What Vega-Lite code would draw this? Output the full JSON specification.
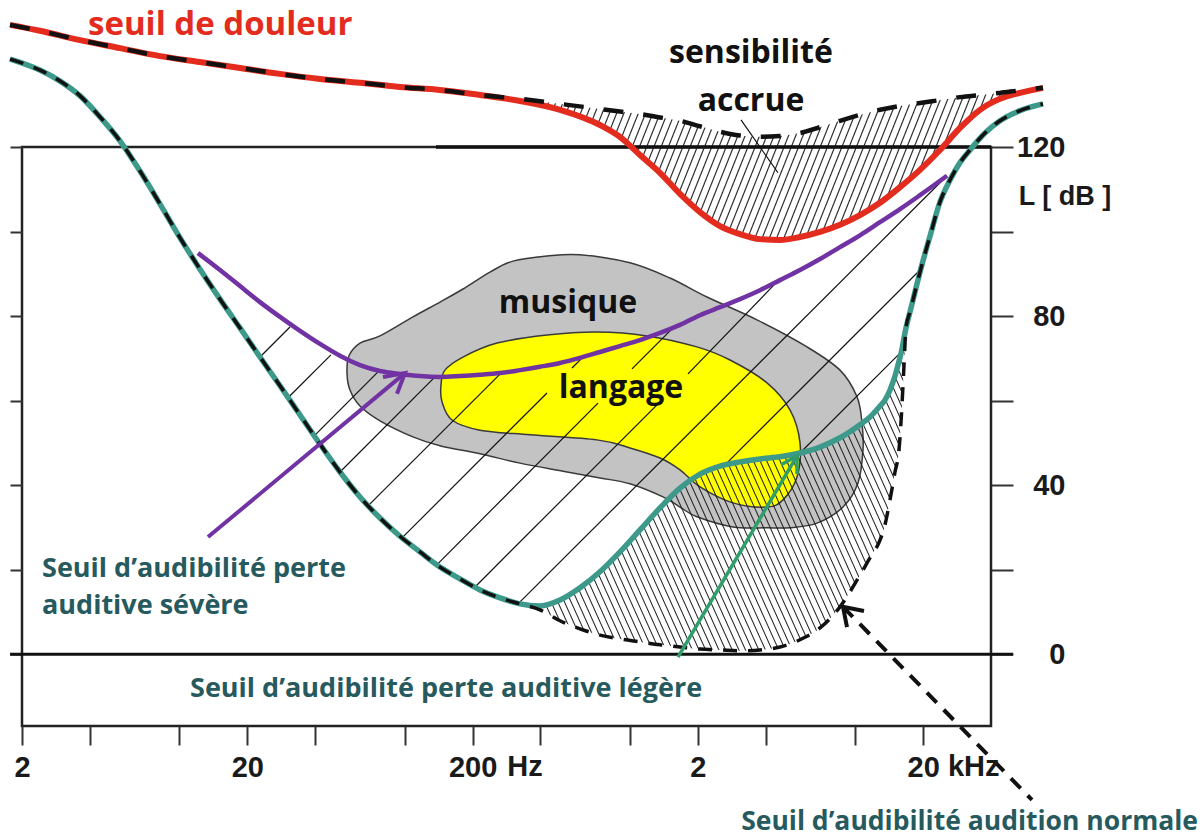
{
"$schema":"https://vega.github.io/schema/vega-lite/v6.json",
"width":969,"height":579,"autosize":"none",
"padding":{"left":22,"top":147,"right":212,"bottom":112},
"background":"white",
"config":{"view":{"stroke":"#222","strokeWidth":2.5},"axis":{"grid":false,"domain":false,"title":null,"tickColor":"#333","tickWidth":2,"labelFont":"Liberation Sans","labelFontWeight":"bold","labelFontSize":29,"labelColor":"#1a1a1a","labelOverlap":false,"labelFlush":false,"labelBound":false}},
"datasets":{
"douleur":[
{"f":1.77,"db":148.9,"db2":148.9},{"f":2.40,"db":147.5,"db2":147.5},{"f":3.62,"db":145.3,"db2":145.3},{"f":5.45,"db":143.4,"db2":143.4},{"f":8.20,"db":141.5,"db2":141.5},{"f":12.3,"db":140.1,"db2":140.1},{"f":18.6,"db":138.7,"db2":138.7},{"f":27.9,"db":137.3,"db2":137.3},{"f":42.0,"db":136.1,"db2":136.1},{"f":63.3,"db":135.2,"db2":135.2},{"f":95.2,"db":134.2,"db2":134.2},{"f":143,"db":133.5,"db2":133.5},{"f":216,"db":132.3,"db2":132.3},{"f":325,"db":130.9,"db2":131.4},{"f":489,"db":128.8,"db2":130.2},{"f":736,"db":125.2,"db2":129.0},{"f":902,"db":122.4,"db2":128.4},{"f":1107,"db":118.1,"db2":127.8},{"f":1358,"db":113.9,"db2":127.0},{"f":1666,"db":108.9,"db2":126.2},{"f":2043,"db":104.6,"db2":124.9},{"f":2507,"db":101.3,"db2":123.6},{"f":3076,"db":99.4,"db2":122.7},{"f":3773,"db":98.2,"db2":122.4},{"f":4629,"db":98.0,"db2":122.6},{"f":5679,"db":98.7,"db2":123.3},{"f":6967,"db":99.9,"db2":124.7},{"f":8547,"db":101.6,"db2":126.2},{"f":10486,"db":103.9,"db2":127.6},{"f":12864,"db":106.8,"db2":128.8},{"f":15782,"db":110.5,"db2":129.7},{"f":19357,"db":114.6,"db2":130.4},{"f":23750,"db":119.3,"db2":131.1},{"f":29138,"db":124.5,"db2":131.8},{"f":35746,"db":128.8,"db2":132.3},{"f":43856,"db":131.4,"db2":132.8},{"f":53802,"db":132.8,"db2":133.4},{"f":68034,"db":134.0,"db2":134.0}],
"seuil":[
{"f":1.77,"db":140.8,"db2":140.8},{"f":2.40,"db":138.2,"db2":138.2},{"f":2.95,"db":135.6,"db2":135.6},{"f":3.62,"db":132.1,"db2":132.1},{"f":4.44,"db":127.1,"db2":127.1},{"f":5.45,"db":121.4,"db2":121.4},{"f":6.68,"db":114.3,"db2":114.3},{"f":8.20,"db":106.5,"db2":106.5},{"f":10.06,"db":98.5,"db2":98.5},{"f":12.33,"db":91.1,"db2":91.1},{"f":15.13,"db":84.0,"db2":84.0},{"f":18.56,"db":77.2,"db2":77.2},{"f":22.77,"db":70.3,"db2":70.3},{"f":27.94,"db":63.5,"db2":63.5},{"f":34.28,"db":56.6,"db2":56.6},{"f":42.04,"db":49.7,"db2":49.7},{"f":51.58,"db":43.1,"db2":43.1},{"f":63.28,"db":37.2,"db2":37.2},{"f":77.63,"db":32.2,"db2":32.2},{"f":95.23,"db":27.9,"db2":27.9},{"f":116.8,"db":24.2,"db2":24.2},{"f":143.3,"db":20.6,"db2":20.6},{"f":175.8,"db":17.8,"db2":17.8},{"f":215.7,"db":15.2,"db2":15.2},{"f":264.7,"db":13.3,"db2":13.3},{"f":324.7,"db":11.9,"db2":11.9},{"f":398.3,"db":11.4,"db2":10.5},{"f":488.7,"db":12.8,"db2":7.9},{"f":599.5,"db":15.7,"db2":6.0},{"f":735.5,"db":19.5,"db2":4.5},{"f":902.3,"db":24.2,"db2":3.6},{"f":1107,"db":29.4,"db2":2.9},{"f":1358,"db":34.6,"db2":2.2},{"f":1666,"db":39.3,"db2":1.7},{"f":2043,"db":42.6,"db2":1.2},{"f":2507,"db":44.5,"db2":1.0},{"f":3076,"db":45.5,"db2":0.8},{"f":3773,"db":46.2,"db2":1.0},{"f":4629,"db":46.7,"db2":1.7},{"f":5679,"db":47.6,"db2":3.4},{"f":6967,"db":49.0,"db2":6.2},{"f":8547,"db":51.2,"db2":11.2},{"f":10486,"db":54.3,"db2":18.7},{"f":11613,"db":56.1,"db2":22.8},{"f":12864,"db":58.7,"db2":27.0},{"f":13536,"db":60.1,"db2":30.6},{"f":14246,"db":62.5,"db2":36.5},{"f":14993,"db":65.8,"db2":43.1},{"f":15618,"db":69.3,"db2":48.3},{"f":16108,"db":72.2,"db2":59.0},{"f":16440,"db":74.8,"db2":68.4},{"f":16780,"db":77.2,"db2":77.2},{"f":17480,"db":81.0,"db2":81.0},{"f":18395,"db":85.7,"db2":85.7},{"f":19357,"db":90.4,"db2":90.4},{"f":21440,"db":98.9,"db2":98.9},{"f":23750,"db":107.0,"db2":107.0},{"f":26302,"db":112.2,"db2":112.2},{"f":29138,"db":116.3,"db2":116.3},{"f":32274,"db":119.3,"db2":119.3},{"f":37616,"db":123.3,"db2":123.3},{"f":43856,"db":126.2,"db2":126.2},{"f":53802,"db":128.6,"db2":128.6},{"f":68034,"db":130.2,"db2":130.2}],
"severe":[
{"f":12.08,"db":94.9},{"f":15.13,"db":90.9},{"f":18.56,"db":87.1},{"f":22.77,"db":83.3},{"f":27.94,"db":79.8},{"f":34.28,"db":76.5},{"f":42.04,"db":73.4},{"f":51.58,"db":70.6},{"f":63.28,"db":68.4},{"f":77.63,"db":67.0},{"f":95.23,"db":66.3},{"f":116.8,"db":65.8},{"f":143.3,"db":65.6},{"f":175.8,"db":65.8},{"f":215.7,"db":66.1},{"f":264.7,"db":66.5},{"f":324.7,"db":67.2},{"f":398.3,"db":68.0},{"f":488.7,"db":68.9},{"f":599.5,"db":70.1},{"f":735.5,"db":71.5},{"f":902.3,"db":72.9},{"f":1107,"db":74.3},{"f":1358,"db":76.0},{"f":1666,"db":77.9},{"f":2043,"db":80.2},{"f":2507,"db":82.1},{"f":3076,"db":84.0},{"f":3773,"db":86.1},{"f":4629,"db":88.5},{"f":5679,"db":90.9},{"f":6967,"db":93.5},{"f":8547,"db":96.3},{"f":10486,"db":99.1},{"f":12864,"db":102.2},{"f":15782,"db":105.3},{"f":19357,"db":108.6},{"f":25507,"db":113.2}],
"musique":[
{"i":0,"f":55.41,"db":66.5},{"i":1,"f":56.55,"db":70.6},{"i":2,"f":63.28,"db":73.6},{"i":3,"f":77.63,"db":75.3},{"i":4,"f":108.7,"db":79.8},{"i":5,"f":143.3,"db":83.3},{"i":6,"f":181.3,"db":86.4},{"i":7,"f":238.9,"db":90.4},{"i":8,"f":302.3,"db":93.0},{"i":9,"f":427.9,"db":94.2},{"i":10,"f":599.5,"db":94.5},{"i":11,"f":999.4,"db":92.6},{"i":12,"f":1504,"db":89.0},{"i":13,"f":2195,"db":84.5},{"i":14,"f":3659,"db":79.1},{"i":15,"f":6100,"db":72.7},{"i":16,"f":8547,"db":67.2},{"i":17,"f":10169,"db":60.9},{"i":18,"f":10702,"db":54.7},{"i":19,"f":10812,"db":48.3},{"i":20,"f":10274,"db":40.5},{"i":21,"f":8813,"db":34.8},{"i":22,"f":6757,"db":31.0},{"i":23,"f":5127,"db":29.9},{"i":24,"f":4053,"db":29.9},{"i":25,"f":2864,"db":30.1},{"i":26,"f":1981,"db":32.5},{"i":27,"f":1666,"db":34.8},{"i":28,"f":1400,"db":37.2},{"i":29,"f":999.4,"db":40.3},{"i":30,"f":735.5,"db":41.7},{"i":31,"f":503.9,"db":43.3},{"i":32,"f":324.7,"db":45.2},{"i":33,"f":215.7,"db":47.4},{"i":34,"f":143.3,"db":49.3},{"i":35,"f":108.7,"db":51.4},{"i":36,"f":77.63,"db":55.2},{"i":37,"f":63.28,"db":58.7},{"i":38,"f":57.13,"db":62.5}],
"langage":[
{"i":0,"f":144.8,"db":63.7},{"i":1,"f":150.8,"db":67.2},{"i":2,"f":181.3,"db":70.3},{"i":3,"f":256.7,"db":73.6},{"i":4,"f":427.9,"db":75.5},{"i":5,"f":713.3,"db":76.2},{"i":6,"f":1189,"db":75.3},{"i":7,"f":1981,"db":72.7},{"i":8,"f":2777,"db":69.6},{"i":9,"f":4053,"db":64.2},{"i":10,"f":5127,"db":57.8},{"i":11,"f":5679,"db":50.0},{"i":12,"f":5508,"db":41.9},{"i":13,"f":4773,"db":36.5},{"i":14,"f":4053,"db":34.8},{"i":15,"f":2864,"db":35.8},{"i":16,"f":2043,"db":39.6},{"i":17,"f":1666,"db":43.6},{"i":18,"f":1358,"db":46.4},{"i":19,"f":999.4,"db":48.8},{"i":20,"f":713.3,"db":50.7},{"i":21,"f":359.6,"db":51.9},{"i":22,"f":215.7,"db":53.0},{"i":23,"f":162.0,"db":55.4},{"i":24,"f":146.3,"db":59.7}],
"hatch":[
{"f":22.77,"db":70.3,"f2":30.95,"db2":77.4},{"f":30.63,"db":60.9,"f2":47.04,"db2":70.8},{"f":39.54,"db":51.6,"f2":76.06,"db2":66.8},{"f":51.58,"db":43.1,"f2":136.2,"db2":65.6},{"f":68.67,"db":35.1,"f2":267.4,"db2":66.5},{"f":97.19,"db":27.5,"f2":427.9,"db2":61.8},{"f":552.4,"db":67.7,"f2":605.7,"db2":69.8},{"f":139.0,"db":21.2,"f2":720.6,"db2":59.4},{"f":1020,"db":67.5,"f2":1551,"db2":77.2},{"f":205,"db":15.9,"f2":1317,"db2":59.0},{"f":1808,"db":66.3,"f2":4399,"db2":87.6},{"f":319.8,"db":12.0,"f2":25507,"db2":113.2},{"f":2638,"db":44.8,"f2":19357,"db2":90.9},{"f":5679,"db":47.6,"f2":16030,"db2":71.6}]
},
"encoding":{"x":{"field":"f","type":"quantitative","scale":{"type":"log","domain":[2,40000],"nice":false},"axis":null},"y":{"field":"db","type":"quantitative","scale":{"domain":[-17,120],"nice":false,"zero":false},"axis":null}},
"resolve":{"axis":{"x":"independent","y":"independent"}},
"layer":[
{"data":{"name":"musique"},"mark":{"type":"line","interpolate":"cardinal-closed","fill":"#c3c3c3","stroke":"#3a3a3a","strokeWidth":1.5,"clip":false},"encoding":{"order":{"field":"i","type":"quantitative"}}},
{"data":{"name":"langage"},"mark":{"type":"line","interpolate":"cardinal-closed","fill":"#ffff00","stroke":"#3a3a3a","strokeWidth":1.5,"clip":false},"encoding":{"order":{"field":"i","type":"quantitative"}}},
{"data":{"name":"douleur"},"transform":[{"filter":"datum.f >= 216 && datum.f <= 43860"}],"mark":{"type":"area","interpolate":"monotone","clip":false,"strokeWidth":0,"fill":{"gradient":"linear","x1":0,"y1":0,"x2":1.099,"y2":0.124,"stops":[{"offset":0,"color":"transparent"},
{"offset":0.0105,"color":"transparent"},{"offset":0.0125,"color":"#222"},{"offset":0.0145,"color":"transparent"},
{"offset":0.023,"color":"transparent"},{"offset":0.025,"color":"#222"},{"offset":0.027,"color":"transparent"},
{"offset":0.0355,"color":"transparent"},{"offset":0.0375,"color":"#222"},{"offset":0.0395,"color":"transparent"},
{"offset":0.048,"color":"transparent"},{"offset":0.05,"color":"#222"},{"offset":0.052,"color":"transparent"},
{"offset":0.0605,"color":"transparent"},{"offset":0.0625,"color":"#222"},{"offset":0.0645,"color":"transparent"},
{"offset":0.073,"color":"transparent"},{"offset":0.075,"color":"#222"},{"offset":0.077,"color":"transparent"},
{"offset":0.0855,"color":"transparent"},{"offset":0.0875,"color":"#222"},{"offset":0.0895,"color":"transparent"},
{"offset":0.098,"color":"transparent"},{"offset":0.1,"color":"#222"},{"offset":0.102,"color":"transparent"},
{"offset":0.1105,"color":"transparent"},{"offset":0.1125,"color":"#222"},{"offset":0.1145,"color":"transparent"},
{"offset":0.123,"color":"transparent"},{"offset":0.125,"color":"#222"},{"offset":0.127,"color":"transparent"},
{"offset":0.1355,"color":"transparent"},{"offset":0.1375,"color":"#222"},{"offset":0.1395,"color":"transparent"},
{"offset":0.148,"color":"transparent"},{"offset":0.15,"color":"#222"},{"offset":0.152,"color":"transparent"},
{"offset":0.1605,"color":"transparent"},{"offset":0.1625,"color":"#222"},{"offset":0.1645,"color":"transparent"},
{"offset":0.173,"color":"transparent"},{"offset":0.175,"color":"#222"},{"offset":0.177,"color":"transparent"},
{"offset":0.1855,"color":"transparent"},{"offset":0.1875,"color":"#222"},{"offset":0.1895,"color":"transparent"},
{"offset":0.198,"color":"transparent"},{"offset":0.2,"color":"#222"},{"offset":0.202,"color":"transparent"},
{"offset":0.2105,"color":"transparent"},{"offset":0.2125,"color":"#222"},{"offset":0.2145,"color":"transparent"},
{"offset":0.223,"color":"transparent"},{"offset":0.225,"color":"#222"},{"offset":0.227,"color":"transparent"},
{"offset":0.2355,"color":"transparent"},{"offset":0.2375,"color":"#222"},{"offset":0.2395,"color":"transparent"},
{"offset":0.248,"color":"transparent"},{"offset":0.25,"color":"#222"},{"offset":0.252,"color":"transparent"},
{"offset":0.2605,"color":"transparent"},{"offset":0.2625,"color":"#222"},{"offset":0.2645,"color":"transparent"},
{"offset":0.273,"color":"transparent"},{"offset":0.275,"color":"#222"},{"offset":0.277,"color":"transparent"},
{"offset":0.2855,"color":"transparent"},{"offset":0.2875,"color":"#222"},{"offset":0.2895,"color":"transparent"},
{"offset":0.298,"color":"transparent"},{"offset":0.3,"color":"#222"},{"offset":0.302,"color":"transparent"},
{"offset":0.3105,"color":"transparent"},{"offset":0.3125,"color":"#222"},{"offset":0.3145,"color":"transparent"},
{"offset":0.323,"color":"transparent"},{"offset":0.325,"color":"#222"},{"offset":0.327,"color":"transparent"},
{"offset":0.3355,"color":"transparent"},{"offset":0.3375,"color":"#222"},{"offset":0.3395,"color":"transparent"},
{"offset":0.348,"color":"transparent"},{"offset":0.35,"color":"#222"},{"offset":0.352,"color":"transparent"},
{"offset":0.3605,"color":"transparent"},{"offset":0.3625,"color":"#222"},{"offset":0.3645,"color":"transparent"},
{"offset":0.373,"color":"transparent"},{"offset":0.375,"color":"#222"},{"offset":0.377,"color":"transparent"},
{"offset":0.3855,"color":"transparent"},{"offset":0.3875,"color":"#222"},{"offset":0.3895,"color":"transparent"},
{"offset":0.398,"color":"transparent"},{"offset":0.4,"color":"#222"},{"offset":0.402,"color":"transparent"},
{"offset":0.4105,"color":"transparent"},{"offset":0.4125,"color":"#222"},{"offset":0.4145,"color":"transparent"},
{"offset":0.423,"color":"transparent"},{"offset":0.425,"color":"#222"},{"offset":0.427,"color":"transparent"},
{"offset":0.4355,"color":"transparent"},{"offset":0.4375,"color":"#222"},{"offset":0.4395,"color":"transparent"},
{"offset":0.448,"color":"transparent"},{"offset":0.45,"color":"#222"},{"offset":0.452,"color":"transparent"},
{"offset":0.4605,"color":"transparent"},{"offset":0.4625,"color":"#222"},{"offset":0.4645,"color":"transparent"},
{"offset":0.473,"color":"transparent"},{"offset":0.475,"color":"#222"},{"offset":0.477,"color":"transparent"},
{"offset":0.4855,"color":"transparent"},{"offset":0.4875,"color":"#222"},{"offset":0.4895,"color":"transparent"},
{"offset":0.498,"color":"transparent"},{"offset":0.5,"color":"#222"},{"offset":0.502,"color":"transparent"},
{"offset":0.5105,"color":"transparent"},{"offset":0.5125,"color":"#222"},{"offset":0.5145,"color":"transparent"},
{"offset":0.523,"color":"transparent"},{"offset":0.525,"color":"#222"},{"offset":0.527,"color":"transparent"},
{"offset":0.5355,"color":"transparent"},{"offset":0.5375,"color":"#222"},{"offset":0.5395,"color":"transparent"},
{"offset":0.548,"color":"transparent"},{"offset":0.55,"color":"#222"},{"offset":0.552,"color":"transparent"},
{"offset":0.5605,"color":"transparent"},{"offset":0.5625,"color":"#222"},{"offset":0.5645,"color":"transparent"},
{"offset":0.573,"color":"transparent"},{"offset":0.575,"color":"#222"},{"offset":0.577,"color":"transparent"},
{"offset":0.5855,"color":"transparent"},{"offset":0.5875,"color":"#222"},{"offset":0.5895,"color":"transparent"},
{"offset":0.598,"color":"transparent"},{"offset":0.6,"color":"#222"},{"offset":0.602,"color":"transparent"},
{"offset":0.6105,"color":"transparent"},{"offset":0.6125,"color":"#222"},{"offset":0.6145,"color":"transparent"},
{"offset":0.623,"color":"transparent"},{"offset":0.625,"color":"#222"},{"offset":0.627,"color":"transparent"},
{"offset":0.6355,"color":"transparent"},{"offset":0.6375,"color":"#222"},{"offset":0.6395,"color":"transparent"},
{"offset":0.648,"color":"transparent"},{"offset":0.65,"color":"#222"},{"offset":0.652,"color":"transparent"},
{"offset":0.6605,"color":"transparent"},{"offset":0.6625,"color":"#222"},{"offset":0.6645,"color":"transparent"},
{"offset":0.673,"color":"transparent"},{"offset":0.675,"color":"#222"},{"offset":0.677,"color":"transparent"},
{"offset":0.6855,"color":"transparent"},{"offset":0.6875,"color":"#222"},{"offset":0.6895,"color":"transparent"},
{"offset":0.698,"color":"transparent"},{"offset":0.7,"color":"#222"},{"offset":0.702,"color":"transparent"},
{"offset":0.7105,"color":"transparent"},{"offset":0.7125,"color":"#222"},{"offset":0.7145,"color":"transparent"},
{"offset":0.723,"color":"transparent"},{"offset":0.725,"color":"#222"},{"offset":0.727,"color":"transparent"},
{"offset":0.7355,"color":"transparent"},{"offset":0.7375,"color":"#222"},{"offset":0.7395,"color":"transparent"},
{"offset":0.748,"color":"transparent"},{"offset":0.75,"color":"#222"},{"offset":0.752,"color":"transparent"},
{"offset":0.7605,"color":"transparent"},{"offset":0.7625,"color":"#222"},{"offset":0.7645,"color":"transparent"},
{"offset":0.773,"color":"transparent"},{"offset":0.775,"color":"#222"},{"offset":0.777,"color":"transparent"},
{"offset":0.7855,"color":"transparent"},{"offset":0.7875,"color":"#222"},{"offset":0.7895,"color":"transparent"},
{"offset":0.798,"color":"transparent"},{"offset":0.8,"color":"#222"},{"offset":0.802,"color":"transparent"},
{"offset":0.8105,"color":"transparent"},{"offset":0.8125,"color":"#222"},{"offset":0.8145,"color":"transparent"},
{"offset":0.823,"color":"transparent"},{"offset":0.825,"color":"#222"},{"offset":0.827,"color":"transparent"},
{"offset":0.8355,"color":"transparent"},{"offset":0.8375,"color":"#222"},{"offset":0.8395,"color":"transparent"},
{"offset":0.848,"color":"transparent"},{"offset":0.85,"color":"#222"},{"offset":0.852,"color":"transparent"},
{"offset":0.8605,"color":"transparent"},{"offset":0.8625,"color":"#222"},{"offset":0.8645,"color":"transparent"},
{"offset":0.873,"color":"transparent"},{"offset":0.875,"color":"#222"},{"offset":0.877,"color":"transparent"},
{"offset":0.8855,"color":"transparent"},{"offset":0.8875,"color":"#222"},{"offset":0.8895,"color":"transparent"},
{"offset":0.898,"color":"transparent"},{"offset":0.9,"color":"#222"},{"offset":0.902,"color":"transparent"},
{"offset":0.9105,"color":"transparent"},{"offset":0.9125,"color":"#222"},{"offset":0.9145,"color":"transparent"},
{"offset":0.923,"color":"transparent"},{"offset":0.925,"color":"#222"},{"offset":0.927,"color":"transparent"},
{"offset":0.9355,"color":"transparent"},{"offset":0.9375,"color":"#222"},{"offset":0.9395,"color":"transparent"},
{"offset":0.948,"color":"transparent"},{"offset":0.95,"color":"#222"},{"offset":0.952,"color":"transparent"},
{"offset":0.9605,"color":"transparent"},{"offset":0.9625,"color":"#222"},{"offset":0.9645,"color":"transparent"},
{"offset":0.973,"color":"transparent"},{"offset":0.975,"color":"#222"},{"offset":0.977,"color":"transparent"},
{"offset":0.9855,"color":"transparent"},{"offset":0.9875,"color":"#222"},{"offset":0.9895,"color":"transparent"},
{"offset":1,"color":"transparent"}]}},"encoding":{"y2":{"field":"db2"}}},
{"data":{"name":"seuil"},"transform":[{"filter":"datum.f >= 324 && datum.f <= 16800"}],"mark":{"type":"area","interpolate":"monotone","clip":false,"strokeWidth":0,"fill":{"gradient":"linear","x1":0,"y1":1,"x2":1.206,"y2":0.546,"stops":[{"offset":0,"color":"transparent"},
{"offset":0.0105,"color":"transparent"},{"offset":0.0125,"color":"#222"},{"offset":0.0145,"color":"transparent"},
{"offset":0.023,"color":"transparent"},{"offset":0.025,"color":"#222"},{"offset":0.027,"color":"transparent"},
{"offset":0.0355,"color":"transparent"},{"offset":0.0375,"color":"#222"},{"offset":0.0395,"color":"transparent"},
{"offset":0.048,"color":"transparent"},{"offset":0.05,"color":"#222"},{"offset":0.052,"color":"transparent"},
{"offset":0.0605,"color":"transparent"},{"offset":0.0625,"color":"#222"},{"offset":0.0645,"color":"transparent"},
{"offset":0.073,"color":"transparent"},{"offset":0.075,"color":"#222"},{"offset":0.077,"color":"transparent"},
{"offset":0.0855,"color":"transparent"},{"offset":0.0875,"color":"#222"},{"offset":0.0895,"color":"transparent"},
{"offset":0.098,"color":"transparent"},{"offset":0.1,"color":"#222"},{"offset":0.102,"color":"transparent"},
{"offset":0.1105,"color":"transparent"},{"offset":0.1125,"color":"#222"},{"offset":0.1145,"color":"transparent"},
{"offset":0.123,"color":"transparent"},{"offset":0.125,"color":"#222"},{"offset":0.127,"color":"transparent"},
{"offset":0.1355,"color":"transparent"},{"offset":0.1375,"color":"#222"},{"offset":0.1395,"color":"transparent"},
{"offset":0.148,"color":"transparent"},{"offset":0.15,"color":"#222"},{"offset":0.152,"color":"transparent"},
{"offset":0.1605,"color":"transparent"},{"offset":0.1625,"color":"#222"},{"offset":0.1645,"color":"transparent"},
{"offset":0.173,"color":"transparent"},{"offset":0.175,"color":"#222"},{"offset":0.177,"color":"transparent"},
{"offset":0.1855,"color":"transparent"},{"offset":0.1875,"color":"#222"},{"offset":0.1895,"color":"transparent"},
{"offset":0.198,"color":"transparent"},{"offset":0.2,"color":"#222"},{"offset":0.202,"color":"transparent"},
{"offset":0.2105,"color":"transparent"},{"offset":0.2125,"color":"#222"},{"offset":0.2145,"color":"transparent"},
{"offset":0.223,"color":"transparent"},{"offset":0.225,"color":"#222"},{"offset":0.227,"color":"transparent"},
{"offset":0.2355,"color":"transparent"},{"offset":0.2375,"color":"#222"},{"offset":0.2395,"color":"transparent"},
{"offset":0.248,"color":"transparent"},{"offset":0.25,"color":"#222"},{"offset":0.252,"color":"transparent"},
{"offset":0.2605,"color":"transparent"},{"offset":0.2625,"color":"#222"},{"offset":0.2645,"color":"transparent"},
{"offset":0.273,"color":"transparent"},{"offset":0.275,"color":"#222"},{"offset":0.277,"color":"transparent"},
{"offset":0.2855,"color":"transparent"},{"offset":0.2875,"color":"#222"},{"offset":0.2895,"color":"transparent"},
{"offset":0.298,"color":"transparent"},{"offset":0.3,"color":"#222"},{"offset":0.302,"color":"transparent"},
{"offset":0.3105,"color":"transparent"},{"offset":0.3125,"color":"#222"},{"offset":0.3145,"color":"transparent"},
{"offset":0.323,"color":"transparent"},{"offset":0.325,"color":"#222"},{"offset":0.327,"color":"transparent"},
{"offset":0.3355,"color":"transparent"},{"offset":0.3375,"color":"#222"},{"offset":0.3395,"color":"transparent"},
{"offset":0.348,"color":"transparent"},{"offset":0.35,"color":"#222"},{"offset":0.352,"color":"transparent"},
{"offset":0.3605,"color":"transparent"},{"offset":0.3625,"color":"#222"},{"offset":0.3645,"color":"transparent"},
{"offset":0.373,"color":"transparent"},{"offset":0.375,"color":"#222"},{"offset":0.377,"color":"transparent"},
{"offset":0.3855,"color":"transparent"},{"offset":0.3875,"color":"#222"},{"offset":0.3895,"color":"transparent"},
{"offset":0.398,"color":"transparent"},{"offset":0.4,"color":"#222"},{"offset":0.402,"color":"transparent"},
{"offset":0.4105,"color":"transparent"},{"offset":0.4125,"color":"#222"},{"offset":0.4145,"color":"transparent"},
{"offset":0.423,"color":"transparent"},{"offset":0.425,"color":"#222"},{"offset":0.427,"color":"transparent"},
{"offset":0.4355,"color":"transparent"},{"offset":0.4375,"color":"#222"},{"offset":0.4395,"color":"transparent"},
{"offset":0.448,"color":"transparent"},{"offset":0.45,"color":"#222"},{"offset":0.452,"color":"transparent"},
{"offset":0.4605,"color":"transparent"},{"offset":0.4625,"color":"#222"},{"offset":0.4645,"color":"transparent"},
{"offset":0.473,"color":"transparent"},{"offset":0.475,"color":"#222"},{"offset":0.477,"color":"transparent"},
{"offset":0.4855,"color":"transparent"},{"offset":0.4875,"color":"#222"},{"offset":0.4895,"color":"transparent"},
{"offset":0.498,"color":"transparent"},{"offset":0.5,"color":"#222"},{"offset":0.502,"color":"transparent"},
{"offset":0.5105,"color":"transparent"},{"offset":0.5125,"color":"#222"},{"offset":0.5145,"color":"transparent"},
{"offset":0.523,"color":"transparent"},{"offset":0.525,"color":"#222"},{"offset":0.527,"color":"transparent"},
{"offset":0.5355,"color":"transparent"},{"offset":0.5375,"color":"#222"},{"offset":0.5395,"color":"transparent"},
{"offset":0.548,"color":"transparent"},{"offset":0.55,"color":"#222"},{"offset":0.552,"color":"transparent"},
{"offset":0.5605,"color":"transparent"},{"offset":0.5625,"color":"#222"},{"offset":0.5645,"color":"transparent"},
{"offset":0.573,"color":"transparent"},{"offset":0.575,"color":"#222"},{"offset":0.577,"color":"transparent"},
{"offset":0.5855,"color":"transparent"},{"offset":0.5875,"color":"#222"},{"offset":0.5895,"color":"transparent"},
{"offset":0.598,"color":"transparent"},{"offset":0.6,"color":"#222"},{"offset":0.602,"color":"transparent"},
{"offset":0.6105,"color":"transparent"},{"offset":0.6125,"color":"#222"},{"offset":0.6145,"color":"transparent"},
{"offset":0.623,"color":"transparent"},{"offset":0.625,"color":"#222"},{"offset":0.627,"color":"transparent"},
{"offset":0.6355,"color":"transparent"},{"offset":0.6375,"color":"#222"},{"offset":0.6395,"color":"transparent"},
{"offset":0.648,"color":"transparent"},{"offset":0.65,"color":"#222"},{"offset":0.652,"color":"transparent"},
{"offset":0.6605,"color":"transparent"},{"offset":0.6625,"color":"#222"},{"offset":0.6645,"color":"transparent"},
{"offset":0.673,"color":"transparent"},{"offset":0.675,"color":"#222"},{"offset":0.677,"color":"transparent"},
{"offset":0.6855,"color":"transparent"},{"offset":0.6875,"color":"#222"},{"offset":0.6895,"color":"transparent"},
{"offset":0.698,"color":"transparent"},{"offset":0.7,"color":"#222"},{"offset":0.702,"color":"transparent"},
{"offset":0.7105,"color":"transparent"},{"offset":0.7125,"color":"#222"},{"offset":0.7145,"color":"transparent"},
{"offset":0.723,"color":"transparent"},{"offset":0.725,"color":"#222"},{"offset":0.727,"color":"transparent"},
{"offset":0.7355,"color":"transparent"},{"offset":0.7375,"color":"#222"},{"offset":0.7395,"color":"transparent"},
{"offset":0.748,"color":"transparent"},{"offset":0.75,"color":"#222"},{"offset":0.752,"color":"transparent"},
{"offset":0.7605,"color":"transparent"},{"offset":0.7625,"color":"#222"},{"offset":0.7645,"color":"transparent"},
{"offset":0.773,"color":"transparent"},{"offset":0.775,"color":"#222"},{"offset":0.777,"color":"transparent"},
{"offset":0.7855,"color":"transparent"},{"offset":0.7875,"color":"#222"},{"offset":0.7895,"color":"transparent"},
{"offset":0.798,"color":"transparent"},{"offset":0.8,"color":"#222"},{"offset":0.802,"color":"transparent"},
{"offset":0.8105,"color":"transparent"},{"offset":0.8125,"color":"#222"},{"offset":0.8145,"color":"transparent"},
{"offset":0.823,"color":"transparent"},{"offset":0.825,"color":"#222"},{"offset":0.827,"color":"transparent"},
{"offset":0.8355,"color":"transparent"},{"offset":0.8375,"color":"#222"},{"offset":0.8395,"color":"transparent"},
{"offset":0.848,"color":"transparent"},{"offset":0.85,"color":"#222"},{"offset":0.852,"color":"transparent"},
{"offset":0.8605,"color":"transparent"},{"offset":0.8625,"color":"#222"},{"offset":0.8645,"color":"transparent"},
{"offset":0.873,"color":"transparent"},{"offset":0.875,"color":"#222"},{"offset":0.877,"color":"transparent"},
{"offset":0.8855,"color":"transparent"},{"offset":0.8875,"color":"#222"},{"offset":0.8895,"color":"transparent"},
{"offset":0.898,"color":"transparent"},{"offset":0.9,"color":"#222"},{"offset":0.902,"color":"transparent"},
{"offset":0.9105,"color":"transparent"},{"offset":0.9125,"color":"#222"},{"offset":0.9145,"color":"transparent"},
{"offset":0.923,"color":"transparent"},{"offset":0.925,"color":"#222"},{"offset":0.927,"color":"transparent"},
{"offset":0.9355,"color":"transparent"},{"offset":0.9375,"color":"#222"},{"offset":0.9395,"color":"transparent"},
{"offset":0.948,"color":"transparent"},{"offset":0.95,"color":"#222"},{"offset":0.952,"color":"transparent"},
{"offset":0.9605,"color":"transparent"},{"offset":0.9625,"color":"#222"},{"offset":0.9645,"color":"transparent"},
{"offset":0.973,"color":"transparent"},{"offset":0.975,"color":"#222"},{"offset":0.977,"color":"transparent"},
{"offset":0.9855,"color":"transparent"},{"offset":0.9875,"color":"#222"},{"offset":0.9895,"color":"transparent"},
{"offset":1,"color":"transparent"}]}},"encoding":{"y2":{"field":"db2"}}},
{"data":{"name":"hatch"},"mark":{"type":"rule","color":"#111","strokeWidth":1.2,"clip":false},"encoding":{"x2":{"field":"f2"},"y2":{"field":"db2"}}},
{"data":{"values":[{"f":137.6,"f2":40000,"db":120}]},"mark":{"type":"rule","color":"#111","strokeWidth":3.5,"clip":false},"encoding":{
"x":{"field":"f","type":"quantitative","scale":{"type":"log","domain":[2,40000],"nice":false},"axis":{"orient":"bottom","values":[2,4,10,20,40,100,200,400,1000,2000,4000,10000,20000],"tickSize":19,"labelPadding":8,"labelExpr":"datum.value == 2 || datum.value == 2000 ? '2' : (datum.value == 20 || datum.value == 20000 ? '20' : (datum.value == 200 ? '200' : ''))"}},
"x2":{"field":"f2"},
"y":{"field":"db","type":"quantitative","scale":{"domain":[-17,120],"nice":false,"zero":false},"axis":{"orient":"right","values":[0,20,40,60,80,100,120],"tickSize":22,"labelAlign":"right","labelBaseline":"middle","labelPadding":52,"labelExpr":"datum.value % 40 == 0 ? datum.label : ''"}}}},
{"data":{"values":[{"f":1.77,"f2":50090,"db":0}]},"mark":{"type":"rule","color":"#111","strokeWidth":3,"clip":false},"encoding":{
"x2":{"field":"f2"},
"y":{"field":"db","type":"quantitative","scale":{"domain":[-17,120],"nice":false,"zero":false},"axis":{"orient":"left","values":[0,20,40,60,80,100,120],"tickSize":12,"labels":false}}}},
{"data":{"name":"douleur"},"mark":{"type":"line","interpolate":"monotone","stroke":"#e32b1e","strokeWidth":6,"clip":false}},
{"data":{"name":"douleur"},"mark":{"type":"line","interpolate":"monotone","stroke":"#111","strokeWidth":4.5,"strokeDash":[20,20],"clip":false},"encoding":{"y":{"field":"db2","type":"quantitative","scale":{"domain":[-17,120],"nice":false,"zero":false},"axis":null}}},
{"data":{"name":"seuil"},"mark":{"type":"line","interpolate":"monotone","stroke":"#3d9a8b","strokeWidth":5.5,"clip":false}},
{"data":{"name":"seuil"},"mark":{"type":"line","interpolate":"monotone","stroke":"#111","strokeWidth":3.5,"strokeDash":[14,11],"clip":false},"encoding":{"y":{"field":"db2","type":"quantitative","scale":{"domain":[-17,120],"nice":false,"zero":false},"axis":null}}},
{"data":{"name":"severe"},"mark":{"type":"line","interpolate":"monotone","stroke":"#7132a3","strokeWidth":4.5,"clip":false}},
{"data":{"values":[{"p":"s","i":0,"f":13.38,"db":27.7},{"p":"s","i":1,"f":100.2,"db":66.5},{"p":"h","i":0,"f":80.04,"db":65.6},{"p":"h","i":1,"f":100.2,"db":66.5},{"p":"h","i":2,"f":92.35,"db":61.6}]},"mark":{"type":"line","stroke":"#7132a3","strokeWidth":4,"strokeJoin":"miter","clip":false},"encoding":{"detail":{"field":"p"},"order":{"field":"i","type":"quantitative"}}},
{"data":{"values":[{"p":"s","i":0,"f":1632,"db":-0.7},{"p":"s","i":1,"f":5508,"db":46.9},{"p":"h","i":0,"f":4677,"db":44.8},{"p":"h","i":1,"f":5508,"db":46.9},{"p":"h","i":2,"f":5508,"db":42.6}]},"mark":{"type":"line","stroke":"#2f9e6b","strokeWidth":3.5,"clip":false},"encoding":{"detail":{"field":"p"},"order":{"field":"i","type":"quantitative"}}},
{"data":{"values":[{"i":0,"f":8813,"db":11.2},{"i":1,"f":60822,"db":-34.5}]},"mark":{"type":"line","stroke":"#111","strokeWidth":4,"strokeDash":[14,10],"clip":false},"encoding":{"order":{"field":"i","type":"quantitative"}}},
{"data":{"values":[{"i":0,"f":9181,"db":6.4},{"i":1,"f":8813,"db":11.2},{"i":2,"f":10923,"db":10.2}]},"mark":{"type":"line","stroke":"#111","strokeWidth":4,"clip":false},"encoding":{"order":{"field":"i","type":"quantitative"}}},
{"data":{"values":[{"i":0,"f":3108,"db":126.4},{"i":1,"f":4535,"db":113.9}]},"mark":{"type":"line","stroke":"#111","strokeWidth":1.2,"clip":false},"encoding":{"order":{"field":"i","type":"quantitative"}}},
{"data":{"values":[{"t":"seuil de douleur","f":3.926,"db":146.5}]},"mark":{"type":"text","align":"left","baseline":"alphabetic","font":"Open Sans","fontWeight":"bold","fontSize":33,"color":"#e32b1e","clip":false},"encoding":{"text":{"field":"t"}}},
{"data":{"values":[{"t":"sensibilité","f":3441,"db":139.9},{"t":"accrue","f":3441,"db":128.5},{"t":"musique","f":530.3,"db":80.7},{"t":"langage","f":911.6,"db":60.6}]},"mark":{"type":"text","align":"center","baseline":"alphabetic","font":"Open Sans","fontWeight":"bold","fontSize":32,"color":"#111","clip":false},"encoding":{"text":{"field":"t"}}},
{"data":{"values":[{"t":"Seuil d’audibilité perte","f":2.454,"db":18.3},{"t":"auditive sévère","f":2.454,"db":9.5},{"t":"Seuil d’audibilité perte auditive légère","f":11.14,"db":-10.1}]},"mark":{"type":"text","align":"left","baseline":"alphabetic","font":"Open Sans","fontWeight":"bold","fontSize":27,"color":"#265a5e","clip":false},"encoding":{"text":{"field":"t"}}},
{"data":{"values":[{"t":"Seuil d’audibilité audition normale","f":331600,"db":-41.6}]},"mark":{"type":"text","align":"right","baseline":"alphabetic","font":"Open Sans","fontWeight":"bold","fontSize":26.5,"color":"#265a5e","clip":false},"encoding":{"text":{"field":"t"}}},
{"data":{"values":[{"t":"Hz","f":285,"db":-23.5},{"t":"kHz","f":25770,"db":-23.5}]},"mark":{"type":"text","align":"left","baseline":"top","font":"Liberation Sans","fontWeight":"bold","fontSize":29,"color":"#1a1a1a","clip":false},"encoding":{"text":{"field":"t"}}},
{"data":{"values":[{"t":"L [ dB ]","f":85200,"db":108.2}]},"mark":{"type":"text","align":"center","baseline":"middle","font":"Liberation Sans","fontWeight":"bold","fontSize":27,"color":"#1a1a1a","clip":false},"encoding":{"text":{"field":"t"}}}
]
}
